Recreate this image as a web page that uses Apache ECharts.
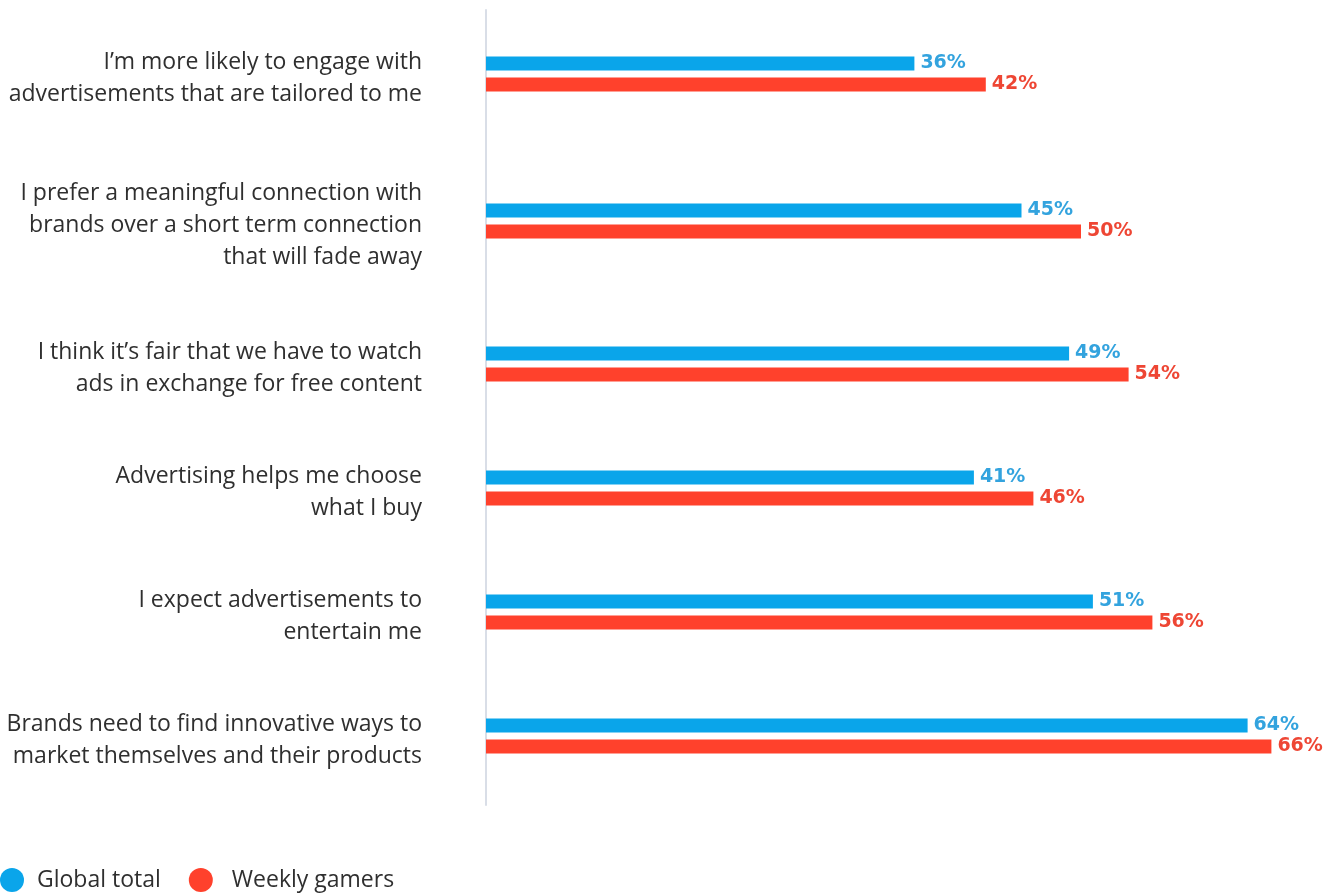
<!DOCTYPE html>
<html>
<head>
<meta charset="utf-8">
<title>Attitudes to advertising</title>
<script src="https://cdn.jsdelivr.net/npm/echarts@6/dist/echarts.min.js"></script>
<style>
  html, body { margin: 0; padding: 0; background: #ffffff; }
  #chart { width: 1339px; height: 893px; }
</style>
</head>
<body>
<div id="chart"></div>
<script>
// Survey statements, one per row (line breaks as set in the labels)
const statements = [
  'I\u2019m more likely to engage with\nadvertisements that are tailored to me',
  'I prefer a meaningful connection with\nbrands over a short term connection\nthat will fade away',
  'I think it\u2019s fair that we have to watch\nads in exchange for free content',
  'Advertising helps me choose\nwhat I buy',
  'I expect advertisements to\nentertain me',
  'Brands need to find innovative ways to\nmarket themselves and their products'
];
const seriesNames = ['Global total', 'Weekly gamers'];
const globalTotal = [36, 45, 49, 41, 51, 64];
const weeklyGamers = [42, 50, 54, 46, 56, 66];

// Layout: vertical centre of each row band (px) and shared horizontal scale
const rowCenters = [74, 221, 364, 488, 612, 736];
const rowBand = 80;
const plotLeft = 486;
const plotRight = 20;
const xMax = 70;

const BAR_BLUE = '#0aa5ea';
const BAR_RED = '#ff412c';
const LABEL_BLUE = '#33a3de';
const LABEL_RED = '#ee4634';
const TEXT = '#2f2f2f';
const FONT = '"Open Sans", sans-serif';

// Statement text: a thin spacer line on top nudges the block slightly below the bar pair centre
function statementLabel(value) {
  return '{s| }\n' + value.split('\n').map(l => '{t|' + l + '}').join('\n');
}

const grids = [];
const xAxes = [];
const yAxes = [];
const series = [];

// Grid 0 carries only the vertical baseline running the full plot height
grids.push({ left: plotLeft, right: plotRight, top: 10, bottom: 88 });
xAxes.push({ type: 'value', gridIndex: 0, min: 0, max: xMax, show: false });
yAxes.push({
  type: 'category', gridIndex: 0, data: [''],
  axisLine: { show: true, lineStyle: { color: '#d9dee7', width: 2 } },
  axisTick: { show: false }, axisLabel: { show: false }, splitLine: { show: false }
});

statements.forEach((text, i) => {
  const gi = i + 1;
  grids.push({ left: plotLeft, right: plotRight, top: rowCenters[i] - rowBand / 2, height: rowBand });
  xAxes.push({ type: 'value', gridIndex: gi, min: 0, max: xMax, show: false });
  yAxes.push({
    type: 'category', gridIndex: gi, data: [text],
    axisLine: { show: false }, axisTick: { show: false }, splitLine: { show: false },
    axisLabel: {
      show: true, margin: 64, align: 'right',
      formatter: statementLabel,
      rich: {
        s: { fontSize: 4, lineHeight: 8 },
        t: { fontFamily: FONT, fontSize: 23, lineHeight: 32, color: TEXT, align: 'right' }
      }
    }
  });
  [[globalTotal, BAR_BLUE, LABEL_BLUE], [weeklyGamers, BAR_RED, LABEL_RED]].forEach(([vals, c, lc], k) => {
    series.push({
      name: seriesNames[k], type: 'bar', xAxisIndex: gi, yAxisIndex: gi,
      data: [vals[i]], barWidth: 14, barGap: '50%',
      itemStyle: { color: c }, silent: true,
      label: {
        show: true, position: 'right', distance: 6,
        formatter: '{c}%', color: lc,
        fontFamily: '"DejaVu Sans", sans-serif', fontWeight: 'bold', fontSize: 19
      }
    });
  });
});

const chart = echarts.init(document.getElementById('chart'), null, { renderer: 'canvas' });
chart.setOption({
  backgroundColor: '#ffffff',
  animation: false,
  grid: grids,
  xAxis: xAxes,
  yAxis: yAxes,
  legend: {
    data: [
      { name: seriesNames[0], textStyle: { padding: [0, 0, 0, 8] } },
      { name: seriesNames[1], textStyle: { padding: [0, 0, 0, 14] } }
    ],
    left: 0, top: 868, padding: 0,
    icon: 'circle', itemWidth: 24, itemHeight: 24, itemGap: 28,
    textStyle: { fontFamily: FONT, fontSize: 23, color: TEXT },
    selectedMode: false
  },
  series: series
});
</script>
</body>
</html>
